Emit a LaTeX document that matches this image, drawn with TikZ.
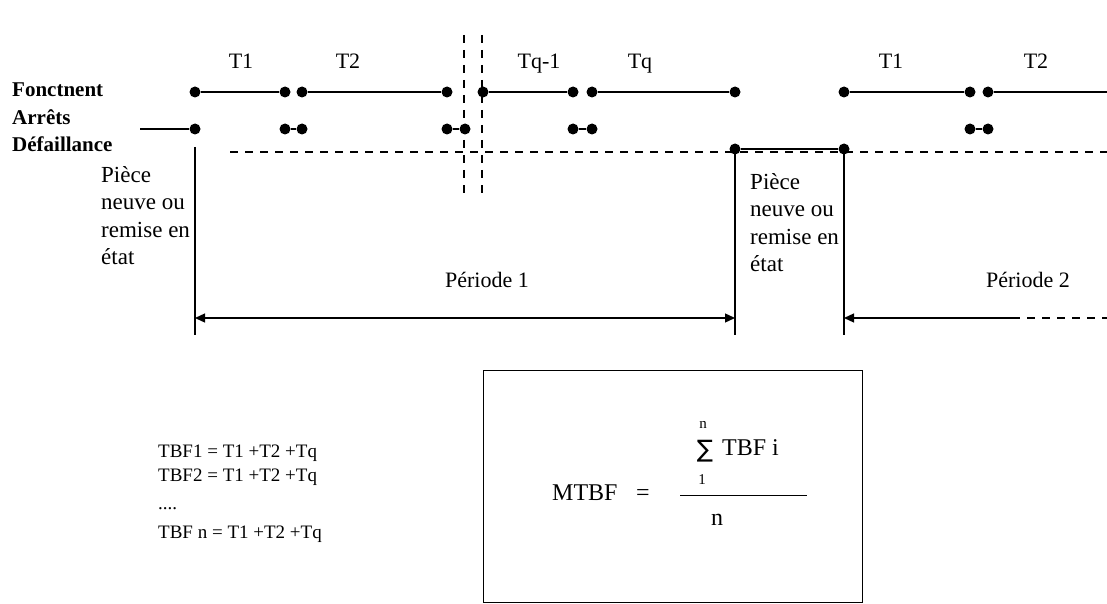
\documentclass[tikz,border=0pt]{standalone}
\usepackage{fontspec}
\setmainfont{Liberation Serif}
\newfontfamily\sumfont{DejaVu Sans}
\usetikzlibrary{arrows.meta, positioning}

\begin{document}
\begin{tikzpicture}[x=1pt, y=-1pt,
  dot/.style={circle, fill=black, inner sep=0pt, minimum size=11pt},
  track/.style={line width=1.3pt},
  gapline/.style={line width=1.3pt, dash pattern=on 8pt off 7pt},
  rowlbl/.style={font=\fontsize{21}{21}\selectfont\bfseries, anchor=base west, inner sep=0pt},
  lbl/.style={font=\fontsize{22}{22}\selectfont, anchor=base, inner sep=0pt},
  note/.style={font=\fontsize{23}{27.5}\selectfont, align=left, anchor=north west, inner sep=0pt},
  formula/.style={font=\fontsize{19}{19}\selectfont, anchor=base west, inner sep=0pt},
  big/.style={font=\fontsize{24}{24}\selectfont, inner sep=0pt},
  small/.style={font=\fontsize{15}{15}\selectfont, inner sep=0pt},
  ptip/.tip={Triangle[length=10pt, width=9pt]}
]
\useasboundingbox (0,0) rectangle (1107,604);

% ── Row labels ────────────────────────────────────────────────
\node[rowlbl] (fonct)  at (12, 97) {Fonctnent};
\node[rowlbl] (arrets) at (12,125) {Arrêts};
\node[rowlbl] (defail) at (12,152) {Défaillance};

% ── Row 1: fonctionnement ─────────────────────────────────────
\foreach \n/\x in {1/195, 2/285, 3/302, 4/447, 5/483, 6/573,
                   7/592, 8/735, 9/844, 10/970, 11/988}{
  \node[dot] (f\n) at (\x,92) {};
}
\coordinate (fend) at (1107,92);
\foreach \a/\b in {f1/f2, f3/f4, f5/f6, f7/f8, f9/f10, f11/fend}{
  \draw[track] (\a) -- (\b);
}

% ── Row 2: arrets ─────────────────────────────────────────────
\foreach \n/\x in {1/195, 2/285, 3/302, 4/447, 5/465,
                   6/573, 7/592, 8/970, 9/988}{
  \node[dot] (a\n) at (\x,129) {};
}
\coordinate (astart) at (140,129);
\foreach \a/\b in {astart/a1, a2/a3, a4/a5, a6/a7, a8/a9}{
  \draw[track] (\a) -- (\b);
}

% ── Row 3: defaillance ────────────────────────────────────────
\coordinate (dstart) at (230,152);
\coordinate (dend)   at (1107,152);
\draw[gapline] (dstart) -- (dend);
\node[dot] (d1) at (735,149) {};
\node[dot] (d2) at (844,149) {};
\draw[track] (d1) -- (d2);

% ── Cut in the time axis ──────────────────────────────────────
\coordinate (cutAt) at (464,35);  \coordinate (cutAb) at (464,197);
\coordinate (cutBt) at (482,35);  \coordinate (cutBb) at (482,197);
\draw[gapline] (cutAt) -- (cutAb);
\draw[gapline] (cutBt) -- (cutBb);

% ── Durations ─────────────────────────────────────────────────
\node[lbl] (t1)  at (241,69)  {T1};
\node[lbl] (t2)  at (348,69)  {T2};
\node[lbl] (tq1) at (539,69)  {Tq-1};
\node[lbl] (tq)  at (640,69)  {Tq};
\node[lbl] (t1b) at (891,69)  {T1};
\node[lbl] (t2b) at (1036,69) {T2};

% ── Period limits ─────────────────────────────────────────────
\coordinate (v0t) at (195,147);
\coordinate (v0b) at (195,335);
\coordinate (v1b) at (735,335);
\coordinate (v2b) at (844,335);
\draw[track] (v0t) -- (v0b);
\draw[track] (d1.center) -- (v1b);
\draw[track] (d2.center) -- (v2b);

\node[note] (new1) at (101,166) {Pièce\\neuve ou\\remise en\\état};
\node[note] (new2) at (750,173) {Pièce\\neuve ou\\remise en\\état};

% ── Periods ───────────────────────────────────────────────────
\coordinate (p1l) at (195,318);
\coordinate (p1r) at (735,318);
\coordinate (p2l) at (844,318);
\coordinate (p2m) at (1012,318);
\coordinate (p2r) at (1107,318);
\draw[track, ptip-ptip] (p1l) -- (p1r);
\draw[track, ptip-] (p2l) -- (p2m);
\draw[gapline] (p2m) -- (p2r);
\node[lbl] (per1) at (487,287)  {Période 1};
\node[lbl] (per2) at (1028,287) {Période 2};

% ── TBF list ──────────────────────────────────────────────────
\node[formula] (tbf1) at (158,457) {TBF1 = T1 +T2 +Tq};
\node[formula] (tbf2) at (158,481) {TBF2 = T1 +T2 +Tq};
\node[formula] (tbfd) at (158,509) {....};
\node[formula] (tbfn) at (158,538) {TBF n = T1 +T2 +Tq};

% ── MTBF box ──────────────────────────────────────────────────
\node[draw, line width=1pt, inner sep=0pt, anchor=north west,
      minimum width=379pt, minimum height=232pt] (mbox) at (483,370) {};
\node[big, anchor=base west] (mtbf) at (552,500) {MTBF};
\node[big, anchor=base] (eq) at (643,500) {=};
\node[inner sep=0pt, anchor=base, font=\fontsize{24}{24}\sumfont] (sum) at (705,457) {∑};
\node[small, anchor=base] (sumtop) at (703,428) {n};
\node[small, anchor=base] (sumbot) at (702,484) {1};
\node[big, anchor=base west] (tbfi) at (722,455) {TBF i};
\coordinate (barl) at (680,495);
\coordinate (barr) at (807,495);
\draw[line width=1pt] (barl) -- (barr);
\node[big, anchor=base] (den) at (717,525) {n};

\end{tikzpicture}
\end{document}
